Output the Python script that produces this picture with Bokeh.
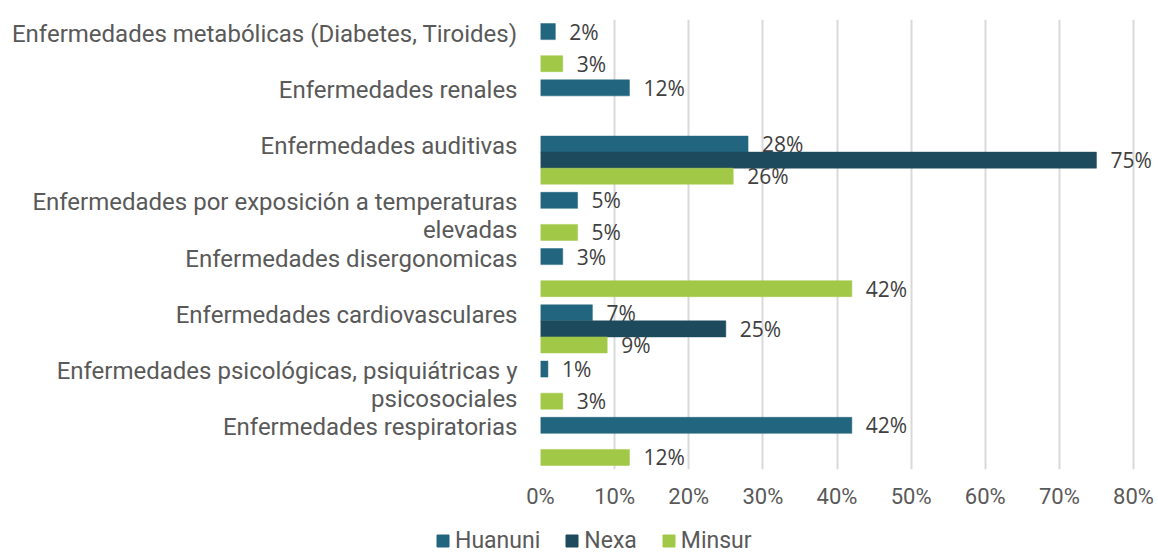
from bokeh.plotting import figure
from bokeh.layouts import column
from bokeh.models import (Range1d, FixedTicker, PrintfTickFormatter, ColumnDataSource,
                          Legend, LegendItem)
from bokeh.core.properties import value
from bokeh.embed import file_html
from bokeh.resources import INLINE

# ---------------- data ----------------
categories = [
    "Enfermedades metabólicas (Diabetes, Tiroides)",
    "Enfermedades renales",
    "Enfermedades auditivas",
    "Enfermedades por exposición a temperaturas\nelevadas",
    "Enfermedades disergonomicas",
    "Enfermedades cardiovasculares",
    "Enfermedades psicológicas, psiquiátricas y\npsicosociales",
    "Enfermedades respiratorias",
]
series_names = ["Huanuni", "Nexa", "Minsur"]
huanuni = [2, 12, 28, 5, 3, 7, 1, 42]
nexa = [None, None, 75, None, None, 25, None, None]
minsur = [3, None, 26, 5, 42, 9, 3, 12]
x_ticks = [0, 10, 20, 30, 40, 50, 60, 70, 80]

series_values = [huanuni, nexa, minsur]
colors = ["#22657F", "#1E4A5D", "#A2C847"]

# ---------------- layout ----------------
UNIT = 4                      # y units per category group
BAR_H = 1.14                  # bar thickness in y units
OFFSETS = [-1.14, 0.0, 1.14]  # series offsets within a group
FIG_W = 1158
FRAME_LEFT = 540
FRAME_W = FIG_W - FRAME_LEFT
PX_PER_PCT = 593 / 80.0
XMAX = FRAME_W / PX_PER_PCT
MAIN_H = 520
LEG_H = 36

p = figure(width=FIG_W, height=MAIN_H, output_backend="svg", toolbar_location=None,
           x_range=Range1d(0, XMAX), y_range=Range1d(len(categories) * UNIT, 0),
           min_border_left=FRAME_LEFT, min_border_right=0,
           min_border_top=19, min_border_bottom=MAIN_H - 19 - 450)
p.outline_line_color = None
p.background_fill_color = "white"
p.border_fill_color = "white"

sources = []
for name, vals, col, off in zip(series_names, series_values, colors, OFFSETS):
    ys, xs, labels = [], [], []
    for i, v in enumerate(vals):
        ys.append(i * UNIT + UNIT / 2 + off)
        xs.append(float("nan") if v is None else v)
        labels.append("" if v is None else f"{v}%")
    src = ColumnDataSource(dict(y=ys, right=xs, text=labels))
    sources.append(src)
    p.hbar(y="y", left=0, right="right", height=BAR_H, source=src,
           fill_color=col, line_color=col, line_width=0.5)
    p.text(x="right", y="y", text="text", source=src, x_offset=14,
           text_baseline="middle", text_align="left",
           text_font=value("Open Sans"), text_font_size="21px", text_color="#404040")

# x axis
p.xaxis.ticker = FixedTicker(ticks=x_ticks, minor_ticks=[])
p.xaxis.formatter = PrintfTickFormatter(format="%d%%")
p.xaxis.axis_line_color = None
p.xaxis.major_tick_line_color = None
p.xaxis.major_tick_out = 0
p.xaxis.major_tick_in = 0
p.xaxis.major_label_standoff = 14
p.xaxis.major_label_text_font = "Roboto"
p.xaxis.major_label_text_font_size = "22px"
p.xaxis.major_label_text_color = "#595959"

p.xgrid.ticker = FixedTicker(ticks=x_ticks, minor_ticks=[])
p.xgrid.grid_line_color = "#D9D9D9"
p.xgrid.grid_line_width = 2
p.ygrid.visible = False

# y axis: one tick per label line
y_ticks, overrides = [], {}
for i, cat in enumerate(categories):
    for j, line in enumerate(cat.split("\n")):
        t = i * UNIT + 1 + 2 * j
        y_ticks.append(t)
        overrides[t] = line
p.yaxis.ticker = FixedTicker(ticks=y_ticks, minor_ticks=[])
p.yaxis.major_label_overrides = overrides
p.yaxis.axis_line_color = None
p.yaxis.major_tick_line_color = None
p.yaxis.minor_tick_line_color = None
p.yaxis.major_tick_out = 0
p.yaxis.major_tick_in = 0
p.yaxis.major_label_standoff = 23
p.yaxis.major_label_text_font = "Roboto"
p.yaxis.major_label_text_font_size = "24px"
p.yaxis.major_label_text_color = "#595959"

# ---------------- legend strip ----------------
lf = figure(width=FIG_W, height=LEG_H, output_backend="svg", toolbar_location=None,
            x_range=Range1d(-1000, -999), y_range=Range1d(-1000, -999),
            x_axis_type=None, y_axis_type=None, min_border=0)
lf.outline_line_color = None
for fig in (p, lf):
    if "frame_align" in fig.properties():
        fig.frame_align = False
legend_items = []
for name, col, src in zip(series_names, colors, sources):
    r = lf.hbar(y="y", left=0, right="right", height=BAR_H, source=src,
                fill_color=col, line_color=col)
    legend_items.append(LegendItem(label=name, renderers=[r]))

legend = Legend(items=legend_items, orientation="horizontal", location=(435, 2))
legend.border_line_color = None
legend.background_fill_alpha = 0
legend.label_text_font = "Roboto"
legend.label_text_font_size = "23px"
legend.label_text_color = "#595959"
legend.glyph_width = 15
legend.glyph_height = 15
legend.label_standoff = 5
legend.spacing = 24
legend.padding = 0
legend.margin = 0
lf.add_layout(legend, "center")

layout = column(p, lf, spacing=0)
open("out.html", "w").write(file_html(layout, INLINE))
